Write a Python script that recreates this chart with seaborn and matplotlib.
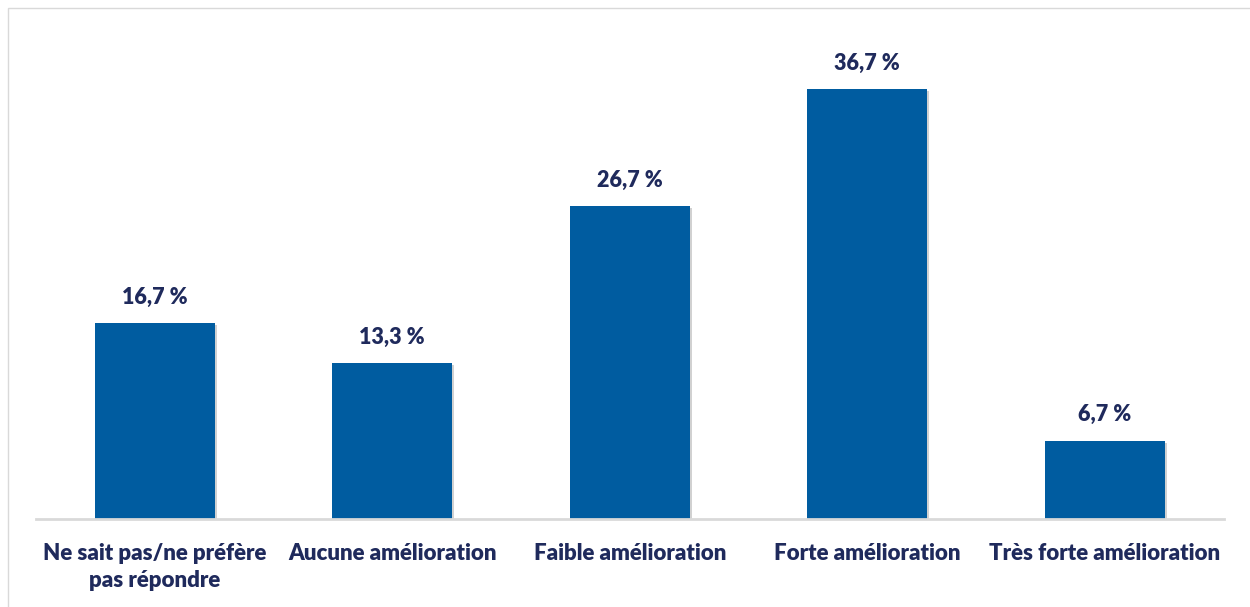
import matplotlib
matplotlib.use("Agg")
import matplotlib.pyplot as plt
import matplotlib.patheffects as pe
from matplotlib.patches import Rectangle
import seaborn as sns
import pandas as pd

# ----------------------------
# DATA
# ----------------------------
categories = [
    "Ne sait pas/ne préfère\npas répondre",
    "Aucune amélioration",
    "Faible amélioration",
    "Forte amélioration",
    "Très forte amélioration",
]
values = [16.7, 13.3, 26.7, 36.7, 6.7]
value_labels = ["16,7 %", "13,3 %", "26,7 %", "36,7 %", "6,7 %"]

df = pd.DataFrame({"categorie": categories, "pct": values})

BAR_COLOR = "#005CA0"
TEXT_COLOR = "#1F2A5C"

sns.set_style("white")
plt.rcParams["font.family"] = ["Lato", "DejaVu Sans"]

fig = plt.figure(figsize=(12.5, 6.07), dpi=100)
ax = fig.add_axes([0.0288, 0.145, 0.950, 0.822])

sns.barplot(data=df, x="categorie", y="pct", color=BAR_COLOR,
            width=0.505, saturation=1, linewidth=0, ax=ax)

for bar in ax.patches:
    bar.set_path_effects([pe.SimplePatchShadow(offset=(1.5, -1.5), shadow_rgbFace="#000000",
                                               alpha=0.18), pe.Normal()])

for i, (v, lab) in enumerate(zip(values, value_labels)):
    ax.annotate(lab, (i, v), xytext=(0, 11), textcoords="offset points",
                ha="center", va="bottom", fontsize=15.5, fontweight="heavy",
                color=TEXT_COLOR)

ax.set_ylim(0, 42.6)
ax.set_xlim(-0.5, len(categories) - 0.5)
ax.set_xlabel("")
ax.set_ylabel("")
ax.set_yticks([])
ax.tick_params(axis="x", length=0, pad=17, labelsize=16, labelcolor=TEXT_COLOR)
for t in ax.get_xticklabels():
    t.set_fontweight("heavy")
    t.set_va("top")
    t.set_linespacing(1.35)

for s in ["top", "right", "left"]:
    ax.spines[s].set_visible(False)
ax.spines["bottom"].set_color("#D9D9D9")
ax.spines["bottom"].set_linewidth(2)

# light frame round the chart area
fig.patches.append(Rectangle((8 / 1250, -0.01), 1.1, (607 - 8) / 607 + 0.01,
                             transform=fig.transFigure, fill=False,
                             edgecolor="#D9D9D9", linewidth=1))

fig.savefig("out.png", dpi=100)
